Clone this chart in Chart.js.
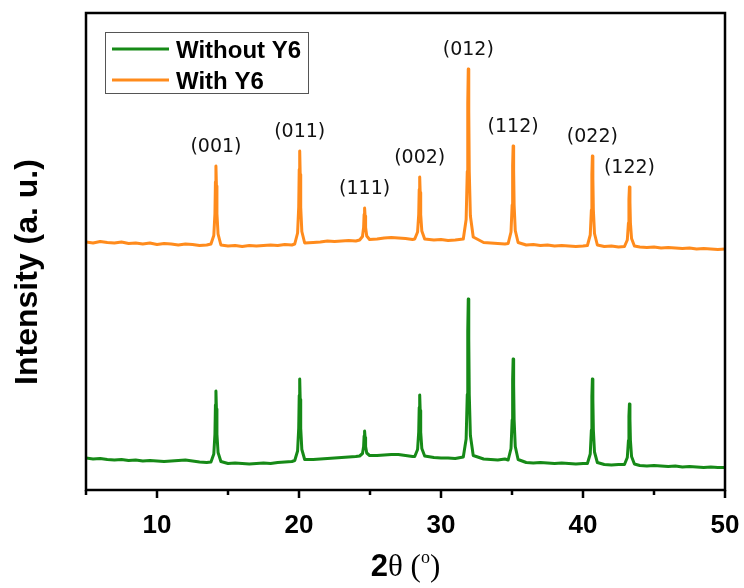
<!DOCTYPE html>
<html>
<head>
<meta charset="utf-8">
<script src="https://cdn.jsdelivr.net/npm/chart.js@4"></script>
<style>
  html, body { margin: 0; padding: 0; background: #fff; }
</style>
</head>
<body>
<canvas id="xrd" width="744" height="588"></canvas>
<script>
// 2theta positions (deg), baseline every 0.5 deg plus points around each reflection
const twoTheta = [
  5, 5.5, 6, 6.5, 7, 7.5, 8, 8.5, 9, 9.5, 10, 10.5, 11, 11.5, 12, 12.5, 13, 13.5,
  13.8, 14.0, 14.08, 14.115, 14.15, 14.185, 14.22, 14.3, 14.5,
  15, 15.5, 16, 16.5, 17, 17.5, 18, 18.5, 19, 19.5,
  19.7, 19.9, 19.98, 20.015, 20.05, 20.085, 20.12, 20.2, 20.4,
  21, 21.5, 22, 22.5, 23, 23.5, 24,
  24.27, 24.47, 24.55, 24.585, 24.62, 24.655, 24.69, 24.77, 24.97,
  25.5, 26, 26.5, 27, 27.5, 28,
  28.15, 28.35, 28.43, 28.465, 28.5, 28.535, 28.57, 28.65, 28.85,
  29.5, 30, 30.5, 31,
  31.57, 31.77, 31.85, 31.885, 31.92, 31.955, 31.99, 32.07, 32.27,
  33, 33.5, 34, 34.5,
  34.73, 34.93, 35.01, 35.045, 35.08, 35.115, 35.15, 35.23, 35.43,
  36, 36.5, 37, 37.5, 38, 38.5, 39, 39.5, 40,
  40.31, 40.51, 40.59, 40.625, 40.66, 40.695, 40.73, 40.81, 41.01,
  41.5, 42, 42.5,
  42.92, 43.12, 43.2, 43.235, 43.27, 43.305, 43.34, 43.42, 43.62,
  44, 44.5, 45, 45.5, 46, 46.5, 47, 47.5, 48, 48.5, 49, 49.5, 50
];

const withoutY6 = [
  320, 310, 315, 305, 300, 305, 295, 300, 290, 295, 290, 285, 290, 295, 300, 290, 280, 275,
  280, 360, 560, 850, 990, 810, 560, 375, 285,
  265, 270, 265, 260, 265, 270, 265, 275, 280, 285,
  295, 390, 620, 945, 1110, 905, 620, 405, 305,
  305, 310, 315, 320, 325, 330, 335,
  340, 365, 435, 540, 590, 525, 435, 370, 345,
  345, 350, 355, 355, 345, 335,
  335, 405, 580, 825, 950, 795, 580, 415, 340,
  325, 320, 320, 315,
  330, 510, 955, 1590, 1910, 1510, 955, 545, 345,
  310, 305, 300, 310,
  300, 415, 700, 1105, 1310, 1055, 700, 435, 305,
  275, 270, 275, 270, 265, 270, 265, 260, 265,
  265, 360, 600, 940, 1110, 900, 600, 380, 275,
  255, 250, 255,
  255, 325, 495, 740, 860, 710, 495, 335, 260,
  245, 240, 245, 240, 235, 240, 230, 235, 230, 225, 230, 225, 225
];

const withY6 = [
  2480, 2470, 2485, 2475, 2470, 2480, 2465, 2470, 2460, 2470, 2455, 2465, 2460, 2450, 2460, 2455, 2445, 2450,
  2460, 2545, 2765, 3080, 3240, 3040, 2765, 2560, 2450,
  2440, 2445, 2435, 2445, 2440, 2445, 2450, 2445, 2455, 2450,
  2460, 2570, 2830, 3205, 3390, 3155, 2830, 2585, 2470,
  2475, 2480, 2490, 2485, 2490, 2495, 2490,
  2500, 2535, 2625, 2755, 2820, 2740, 2625, 2540, 2505,
  2510, 2520, 2525, 2520, 2515, 2505,
  2510, 2580, 2755, 3005, 3130, 2975, 2755, 2590, 2510,
  2500, 2505, 2495, 2500,
  2510, 2705, 3185, 3870, 4210, 3785, 3185, 2740, 2530,
  2475, 2470, 2465, 2460,
  2465, 2580, 2850, 3245, 3440, 3195, 2850, 2595, 2475,
  2450, 2455, 2445, 2450, 2440, 2445, 2440, 2435, 2440,
  2445, 2550, 2800, 3160, 3340, 3115, 2800, 2565, 2450,
  2435, 2440, 2430,
  2435, 2500, 2670, 2910, 3030, 2880, 2670, 2515, 2440,
  2430, 2425, 2430, 2420, 2425, 2420, 2415, 2420, 2410, 2415, 2410, 2405, 2410
];

const peakTheta = [14.15, 20.05, 24.62, 28.5, 31.92, 35.08, 40.66, 43.27];
const peakLabels = ['(001)', '(011)', '(111)', '(002)', '(012)', '(112)', '(022)', '(122)'];

const seriesNames = ['Without Y6', 'With Y6'];
const seriesColors = ['#168a17', '#ff8b1c'];

const toPoints = function(ys) {
  return twoTheta.map((x, i) => ({ x: x, y: ys[i] }));
};

// frame, tick marks, hkl labels, legend and axis titles
const decorations = {
  id: 'decorations',
  afterDatasetsDraw(chart) {
    const ctx = chart.ctx;
    const area = chart.chartArea;
    const xs = chart.scales.x;
    const ys = chart.scales.y;
    ctx.save();

    // hkl labels above the With Y6 peaks
    ctx.fillStyle = '#111';
    ctx.font = '19px "DejaVu Sans"';
    ctx.textAlign = 'center';
    ctx.textBaseline = 'middle';
    for (let i = 0; i < peakTheta.length; i++) {
      const idx = twoTheta.indexOf(peakTheta[i]);
      const px = xs.getPixelForValue(peakTheta[i]);
      const py = ys.getPixelForValue(withY6[idx]);
      ctx.fillText(peakLabels[i], px, py - 19);
    }

    // box
    ctx.strokeStyle = '#000';
    ctx.lineWidth = 2.5;
    ctx.strokeRect(area.left, area.top, area.right - area.left, area.bottom - area.top);

    // x ticks, long at 10s short at 5s
    ctx.beginPath();
    xs.ticks.forEach(t => {
      const px = xs.getPixelForValue(t.value);
      const len = t.value % 10 === 0 ? 8 : 5;
      ctx.moveTo(px, area.bottom);
      ctx.lineTo(px, area.bottom + len);
    });
    ctx.stroke();

    // legend
    const lx = 105, ly = 32, lw = 203, lh = 61;
    ctx.lineWidth = 1;
    ctx.strokeStyle = '#555';
    ctx.strokeRect(lx + 0.5, ly + 0.5, lw, lh);
    ctx.textAlign = 'left';
    ctx.font = 'bold 24px "Liberation Sans"';
    chart.data.datasets.forEach((ds, i) => {
      const cy = ly + 17 + i * 31;
      ctx.strokeStyle = ds.borderColor;
      ctx.lineWidth = 3;
      ctx.beginPath();
      ctx.moveTo(112, cy);
      ctx.lineTo(169, cy);
      ctx.stroke();
      ctx.fillStyle = '#000';
      ctx.fillText(ds.label, 176, cy + 2);
    });

    // y title
    ctx.save();
    ctx.translate(28, 272);
    ctx.rotate(-Math.PI / 2);
    ctx.textAlign = 'center';
    ctx.font = 'bold 32px "Liberation Sans"';
    ctx.fillText('Intensity (a. u.)', 0, 0);
    ctx.restore();

    // x title: 2θ (°)
    const parts = [
      { t: '2', f: 'bold 31px "Liberation Sans"', dy: 0 },
      { t: 'θ (', f: '31px "Liberation Serif"', dy: 0 },
      { t: 'o', f: '18px "Liberation Serif"', dy: -13 },
      { t: ')', f: '31px "Liberation Serif"', dy: 0 }
    ];
    let total = 0;
    parts.forEach(p => { ctx.font = p.f; p.w = ctx.measureText(p.t).width; total += p.w; });
    let tx = (area.left + area.right) / 2 - total / 2;
    ctx.textBaseline = 'alphabetic';
    parts.forEach(p => {
      ctx.font = p.f;
      ctx.fillText(p.t, tx, 576 + p.dy);
      tx += p.w;
    });

    ctx.restore();
  }
};

new Chart(document.getElementById('xrd'), {
  type: 'line',
  data: {
    datasets: [
      {
        label: seriesNames[0],
        data: toPoints(withoutY6),
        borderColor: seriesColors[0],
        borderWidth: 3,
        borderJoinStyle: 'round',
        pointRadius: 0,
        tension: 0
      },
      {
        label: seriesNames[1],
        data: toPoints(withY6),
        borderColor: seriesColors[1],
        borderWidth: 3,
        borderJoinStyle: 'round',
        pointRadius: 0,
        tension: 0
      }
    ]
  },
  options: {
    responsive: false,
    animation: false,
    layout: { padding: { top: 13, right: 19, left: 0, bottom: 0 } },
    plugins: {
      legend: { display: false },
      tooltip: { enabled: false }
    },
    scales: {
      x: {
        type: 'linear',
        min: 5,
        max: 50,
        grid: { display: false },
        border: { display: false },
        ticks: {
          stepSize: 5,
          padding: 12,
          color: '#000',
          font: { family: 'Liberation Sans', weight: 'bold', size: 26 },
          callback: v => (v % 10 === 0 ? String(v) : '')
        },
        afterFit: s => {
          s.height = 98;
          s.paddingLeft = 0;
          s.paddingRight = 0;
        }
      },
      y: {
        min: 0,
        max: 4770,
        grid: { display: false },
        border: { display: false },
        ticks: { display: false },
        afterFit: s => { s.width = 86; }
      }
    }
  },
  plugins: [decorations]
});
</script>
</body>
</html>
